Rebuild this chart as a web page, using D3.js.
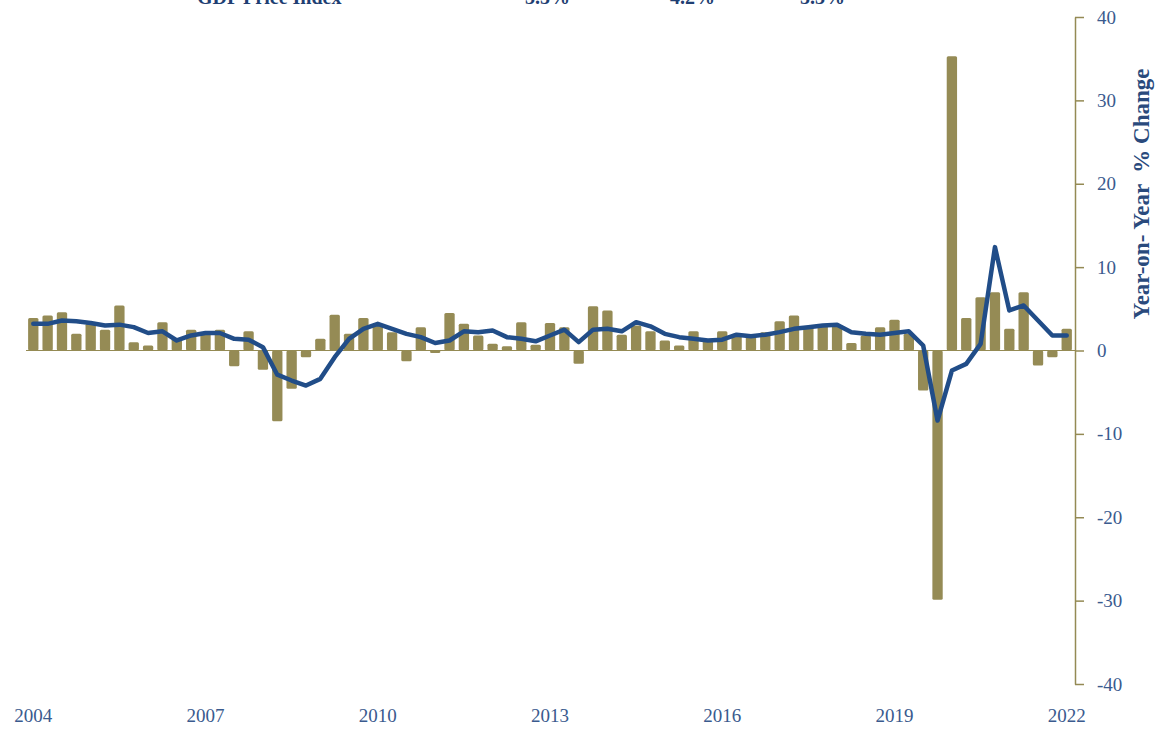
<!DOCTYPE html>
<html>
<head>
<meta charset="utf-8">
<script src="https://cdn.jsdelivr.net/npm/d3@7"></script>
<style>
  body { margin: 0; background: #fff; }
  svg { display: block; }
  .tick text { font-family: "Liberation Serif", "DejaVu Serif", serif; fill: #3a5a8e; }
</style>
</head>
<body>
<svg width="1161" height="730"></svg>
<script>
  // quarters 2004Q3 .. 2022Q3
  const startYear = 2004, startQ = 3;
  // quarterly change, annualized (bars)
  const qoqValues = [
    3.9, 4.2, 4.6, 2.0, 3.2, 2.5, 5.4, 1.0, 0.6, 3.4, 1.4, 2.5, 2.2, 2.5, -1.9, 2.3, -2.3, -8.5,
    -4.6, -0.8, 1.4, 4.3, 2.0, 3.9, 3.1, 2.2, -1.3, 2.8, -0.3, 4.5, 3.2, 1.8, 0.8, 0.5, 3.4, 0.7,
    3.3, 2.8, -1.6, 5.3, 4.8, 1.9, 3.0, 2.3, 1.2, 0.6, 2.3, 1.3, 2.3, 2.0, 1.8, 2.2, 3.5, 4.2,
    2.9, 3.1, 3.0, 0.9, 1.8, 2.8, 3.7, 2.0, -4.8, -29.9, 35.3, 3.9, 6.4, 7.0, 2.6, 7.0, -1.8, -0.8, 2.6
  ];
  // year-on-year change (line)
  const yoyValues = [
    3.2, 3.2, 3.6, 3.5, 3.3, 3.0, 3.1, 2.8, 2.1, 2.3, 1.2, 1.8, 2.1, 2.1, 1.4, 1.3, 0.4, -2.9,
    -3.6, -4.2, -3.4, -0.8, 1.4, 2.6, 3.2, 2.6, 2.0, 1.6, 0.9, 1.2, 2.3, 2.2, 2.4, 1.6, 1.4, 1.1,
    1.8, 2.5, 1.0, 2.5, 2.6, 2.3, 3.4, 2.9, 2.0, 1.6, 1.4, 1.2, 1.3, 1.9, 1.7, 1.9, 2.2, 2.6,
    2.8, 3.0, 3.1, 2.2, 2.0, 1.9, 2.1, 2.3, 0.6, -8.4, -2.4, -1.6, 0.8, 12.4, 4.8, 5.4, 3.6, 1.8, 1.8
  ];
  const yTicks = [-40, -30, -20, -10, 0, 10, 20, 30, 40];
  const headerCells = ['GDP Price Index', '3.5%', '4.2%', '5.3%'];
  const axisTitle = 'Year-on- Year  % Change';

  const quarters = qoqValues.map((v, i) => {
    const k = startQ - 1 + i;
    return { key: `${startYear + Math.floor(k / 4)}Q${(k % 4) + 1}`, qoq: v, yoy: yoyValues[i] };
  });

  const svg = d3.select('svg');
  const axisX = 1075;

  const x = d3.scaleBand()
    .domain(quarters.map(d => d.key))
    .range([26.1, 1073.9])
    .paddingInner(0.28)
    .paddingOuter(0.14);

  const y = d3.scaleLinear()
    .domain([-40, 40])
    .range([684, 17]);

  // header row of the table above, mostly cut off by the top edge
  const headerX = [197, 525, 670, 800];
  svg.append('g')
    .selectAll('text')
    .data(headerCells)
    .join('text')
    .attr('x', (d, i) => headerX[i])
    .attr('y', 4)
    .attr('font-family', '"Liberation Serif", serif')
    .attr('font-weight', 'bold')
    .attr('font-size', 20)
    .attr('fill', '#1f3f73')
    .text(d => d);

  // zero line
  svg.append('line')
    .attr('x1', 26).attr('x2', axisX)
    .attr('y1', y(0)).attr('y2', y(0))
    .attr('stroke', '#948a54')
    .attr('stroke-width', 1);

  // bars
  svg.append('g')
    .selectAll('rect')
    .data(quarters)
    .join('rect')
    .attr('x', d => x(d.key))
    .attr('width', x.bandwidth())
    .attr('y', d => y(Math.max(0, d.qoq)))
    .attr('height', d => Math.abs(y(d.qoq) - y(0)))
    .attr('rx', 1.5)
    .attr('fill', '#958b55');

  // year-on-year line
  const line = d3.line()
    .x(d => x(d.key) + x.bandwidth() / 2)
    .y(d => y(d.yoy));

  svg.append('path')
    .datum(quarters)
    .attr('d', line)
    .attr('fill', 'none')
    .attr('stroke', '#214d88')
    .attr('stroke-width', 4.5)
    .attr('stroke-linejoin', 'round')
    .attr('stroke-linecap', 'round');

  // right axis
  const yAxisG = svg.append('g')
    .attr('transform', `translate(${axisX},0)`)
    .call(d3.axisRight(y).tickValues(yTicks).tickFormat(d => String(d))
      .tickSize(9).tickSizeOuter(0).tickPadding(13));
  yAxisG.selectAll('path, line').attr('stroke', '#948a54').attr('stroke-width', 1.5);
  yAxisG.selectAll('text').attr('font-size', 19);

  // x labels (every 3 years)
  const labelKeys = quarters.filter((d, i) => i % 12 === 0).map(d => d.key);
  const xAxisG = svg.append('g')
    .attr('transform', 'translate(0,708)')
    .call(d3.axisBottom(x).tickValues(labelKeys).tickFormat(k => k.slice(0, 4)).tickSize(0).tickPadding(0));
  xAxisG.select('.domain').remove();
  xAxisG.selectAll('text').attr('font-size', 19);

  // axis title
  svg.append('text')
    .attr('transform', 'translate(1149,194) rotate(-90)')
    .attr('text-anchor', 'middle')
    .attr('font-family', '"Liberation Serif", serif')
    .attr('font-weight', 'bold')
    .attr('font-size', 23)
    .attr('fill', '#2a4a7c')
    .style('white-space', 'pre')
    .text(axisTitle);
</script>
</body>
</html>
